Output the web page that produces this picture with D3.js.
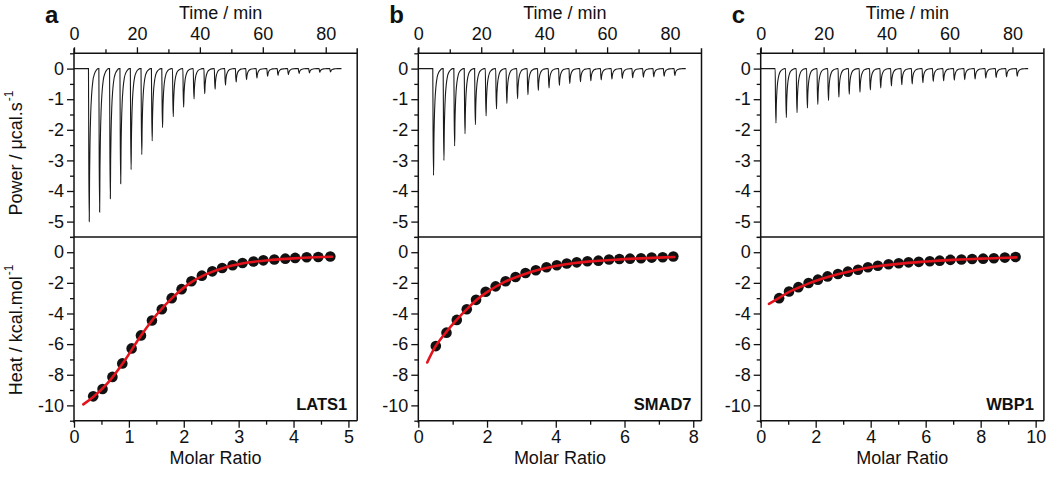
<!DOCTYPE html>
<html>
<head>
<meta charset="utf-8">
<script src="https://cdn.jsdelivr.net/npm/d3@7"></script>
<style>
  html, body { margin: 0; padding: 0; background: #fff; }
  svg { display: block; }
  text { font-family: "Liberation Sans", Arial, sans-serif; fill: #111; }
</style>
</head>
<body>
<svg id="chart" width="1050" height="477"></svg>
<script>
// ---------------- DATA ----------------
const panelLetters = ["a", "b", "c"];
const ligandNames = ["LATS1", "SMAD7", "WBP1"];

const timeTicks = [0, 20, 40, 60, 80];
const timeMinorTicks = [10, 30, 50, 70];
const powerTicks = [0, -1, -2, -3, -4, -5];
const powerMinorTicks = [0.5, -0.5, -1.5, -2.5, -3.5, -4.5, -5.5];
const heatTicks = [0, -2, -4, -6, -8, -10];
const heatMinorTicks = [1, -1, -3, -5, -7, -9, -11];
const ratioTicksA = [0, 1, 2, 3, 4, 5];
const ratioMinorA = [0.5, 1.5, 2.5, 3.5, 4.5];
const ratioTicksB = [0, 2, 4, 6, 8];
const ratioMinorB = [1, 3, 5, 7];
const ratioTicksC = [0, 2, 4, 6, 8, 10];
const ratioMinorC = [1, 3, 5, 7, 9];
const ratioMax = [5.16, 8.24, 10.3];

// injection times (min), same for all three runs
const injectionTimes = [4.6, 7.9, 11.3, 14.6, 17.9, 21.3, 24.6, 27.9, 31.3, 34.6, 37.9, 41.3,
                        44.6, 47.9, 51.3, 54.6, 57.9, 61.3, 64.6, 67.9, 71.3, 74.6, 77.9, 81.3];
const baselineEnd = 85;

// peak minima (µcal/s)
const peakA = [-5.0, -4.69, -4.25, -3.76, -3.30, -2.81, -2.36, -1.93, -1.57, -1.26, -0.99, -0.82,
               -0.67, -0.54, -0.44, -0.36, -0.31, -0.25, -0.22, -0.20, -0.16, -0.14, -0.12, -0.11];
const peakB = [-3.49, -3.0, -2.53, -2.13, -1.83, -1.55, -1.32, -1.14, -0.98, -0.85, -0.71, -0.63,
               -0.55, -0.49, -0.43, -0.40, -0.37, -0.34, -0.32, -0.30, -0.28, -0.27, -0.25, -0.23];
const peakC = [-1.78, -1.60, -1.44, -1.29, -1.17, -1.04, -0.93, -0.84, -0.77, -0.70, -0.63, -0.57,
               -0.53, -0.50, -0.46, -0.42, -0.40, -0.38, -0.36, -0.34, -0.31, -0.29, -0.27, -0.25];

// shape of one injection peak: time offset (min) and fraction of the peak depth
const peakShapeOffset = [0, 0.1, 0.25, 0.35, 0.5, 0.7, 1.0, 1.4, 1.9, 2.5, 3.0];
const peakShapeFrac   = [0, 0.6, 1.0, 0.7, 0.47, 0.3, 0.17, 0.08, 0.035, 0.01, 0];

// integrated heats
const ratioA = [0.35, 0.52, 0.70, 0.88, 1.05, 1.22, 1.42, 1.60, 1.78, 1.96, 2.14, 2.33,
                2.52, 2.70, 2.89, 3.07, 3.27, 3.45, 3.65, 3.85, 4.03, 4.24, 4.45, 4.67];
const heatA  = [-9.41, -8.93, -8.14, -7.26, -6.28, -5.43, -4.46, -3.72, -3.0, -2.41, -1.90, -1.53,
                -1.25, -1.03, -0.85, -0.70, -0.61, -0.53, -0.48, -0.42, -0.37, -0.33, -0.31, -0.28];
const ratioB = [0.51, 0.82, 1.12, 1.41, 1.68, 1.96, 2.25, 2.54, 2.83, 3.12, 3.42, 3.73,
                4.03, 4.32, 4.61, 4.92, 5.24, 5.55, 5.85, 6.16, 6.48, 6.79, 7.11, 7.42];
const heatB  = [-6.13, -5.25, -4.42, -3.72, -3.11, -2.58, -2.23, -1.90, -1.62, -1.36, -1.18, -0.98,
                -0.85, -0.74, -0.66, -0.59, -0.55, -0.48, -0.44, -0.42, -0.39, -0.35, -0.33, -0.28];
const ratioC = [0.67, 1.03, 1.37, 1.74, 2.08, 2.43, 2.81, 3.17, 3.54, 3.90, 4.26, 4.65,
                5.02, 5.38, 5.75, 6.15, 6.51, 6.90, 7.30, 7.69, 8.09, 8.48, 8.88, 9.27];
const heatC  = [-3.0, -2.56, -2.28, -2.01, -1.79, -1.58, -1.42, -1.27, -1.14, -0.98, -0.88, -0.79,
                -0.72, -0.66, -0.63, -0.59, -0.55, -0.50, -0.48, -0.44, -0.42, -0.39, -0.35, -0.31];

// fitted curves
const fitRatioA = [0.17, 0.35, 0.6, 0.9, 1.2, 1.5, 1.8, 2.1, 2.4, 2.8, 3.2, 3.6, 4.0, 4.4, 4.7];
const fitHeatA  = [-9.93, -9.45, -8.6, -7.2, -5.55, -4.1, -2.95, -2.05, -1.45, -0.95, -0.66, -0.5, -0.4, -0.33, -0.3];
const fitRatioB = [0.26, 0.5, 0.8, 1.1, 1.4, 1.7, 2.0, 2.5, 3.0, 3.5, 4.0, 4.5, 5.0, 5.5, 6.0, 6.5, 7.0, 7.45];
const fitHeatB  = [-7.2, -6.15, -5.25, -4.45, -3.75, -3.1, -2.6, -1.95, -1.5, -1.15, -0.9, -0.72, -0.6, -0.52, -0.45, -0.4, -0.35, -0.31];
const fitRatioC = [0.3, 0.67, 1.0, 1.4, 1.8, 2.2, 2.6, 3.0, 3.5, 4.0, 4.5, 5.0, 5.5, 6.0, 6.5, 7.0, 7.5, 8.0, 8.5, 9.0, 9.3];
const fitHeatC  = [-3.37, -2.98, -2.62, -2.3, -2.0, -1.75, -1.53, -1.35, -1.15, -0.98, -0.86, -0.76, -0.68, -0.61, -0.55, -0.5, -0.46, -0.42, -0.39, -0.36, -0.34];

// ---------------- DRAWING ----------------
const svg = d3.select("#chart");
const FONT = 18;
const lefts = [74, 418.3, 760.7];
const W = 283.2;
const yTopPx = 53.3, yMidPx = 236.9, yBotPx = 420.7;

const panelData = [
  { peaks: peakA, ratio: ratioA, heat: heatA, fr: fitRatioA, fh: fitHeatA, rt: ratioTicksA, rm: ratioMinorA },
  { peaks: peakB, ratio: ratioB, heat: heatB, fr: fitRatioB, fh: fitHeatB, rt: ratioTicksB, rm: ratioMinorB },
  { peaks: peakC, ratio: ratioC, heat: heatC, fr: fitRatioC, fh: fitHeatC, rt: ratioTicksC, rm: ratioMinorC }
];

const fmt = d => String(d);

function styleAxis(g) {
  g.select(".domain").remove();
  g.selectAll(".tick line").attr("stroke", "#111").attr("stroke-width", 1.3);
  g.selectAll(".tick text").attr("font-size", FONT).style("font-family", '"Liberation Sans", Arial, sans-serif').attr("fill", "#111");
}

panelData.forEach((p, i) => {
  const L = lefts[i], R = L + W;
  const g = svg.append("g");

  const xTime = d3.scaleLinear().domain([0, 90]).range([L, R]);
  const yPow = d3.scaleLinear().domain([-5.5, 0.5]).range([yMidPx, yTopPx]);
  const xRat = d3.scaleLinear().domain([0, ratioMax[i]]).range([L, R]);
  const yHeat = d3.scaleLinear().domain([-11, 1]).range([yBotPx, yMidPx]);

  // ---- power trace ----
  const trace = [[0, 0]];
  injectionTimes.forEach((t, k) => {
    peakShapeOffset.forEach((o, j) => trace.push([t + o, p.peaks[k] * peakShapeFrac[j]]));
  });
  trace.push([baselineEnd, 0]);
  g.append("path")
    .attr("d", d3.line().x(d => xTime(d[0])).y(d => yPow(d[1])).curve(d3.curveMonotoneX)(trace))
    .attr("fill", "none").attr("stroke", "#1a1a1a").attr("stroke-width", 1.1);

  // ---- heats: dots then fit ----
  g.append("g").selectAll("circle").data(p.ratio).join("circle")
    .attr("cx", d => xRat(d)).attr("cy", (d, k) => yHeat(p.heat[k]))
    .attr("r", 5.3).attr("fill", "#111");
  const fit = p.fr.map((r, k) => [r, p.fh[k]]);
  g.append("path")
    .attr("d", d3.line().x(d => xRat(d[0])).y(d => yHeat(d[1])).curve(d3.curveCatmullRom)(fit))
    .attr("fill", "none").attr("stroke", "#e3121b").attr("stroke-width", 2.6).attr("stroke-linecap", "round");

  // ---- axes ----
  g.append("g").attr("transform", `translate(0,${yTopPx})`)
    .call(d3.axisTop(xTime).tickValues(timeTicks).tickFormat(fmt).tickSize(6).tickPadding(7)).call(styleAxis);
  g.append("g").attr("transform", `translate(0,${yTopPx})`)
    .call(d3.axisTop(xTime).tickValues(timeMinorTicks).tickFormat("").tickSize(4)).call(styleAxis);
  g.append("g").attr("transform", `translate(${L},0)`)
    .call(d3.axisLeft(yPow).tickValues(powerTicks).tickFormat(fmt).tickSize(7).tickPadding(3)).call(styleAxis);
  g.append("g").attr("transform", `translate(${L},0)`)
    .call(d3.axisLeft(yPow).tickValues(powerMinorTicks).tickFormat("").tickSize(4)).call(styleAxis);
  g.append("g").attr("transform", `translate(${L},0)`)
    .call(d3.axisLeft(yHeat).tickValues(heatTicks).tickFormat(fmt).tickSize(7).tickPadding(3)).call(styleAxis);
  g.append("g").attr("transform", `translate(${L},0)`)
    .call(d3.axisLeft(yHeat).tickValues(heatMinorTicks).tickFormat("").tickSize(4)).call(styleAxis);
  g.append("g").attr("transform", `translate(0,${yBotPx})`)
    .call(d3.axisBottom(xRat).tickValues(p.rt).tickFormat(fmt).tickSize(7).tickPadding(3)).call(styleAxis);
  g.append("g").attr("transform", `translate(0,${yBotPx})`)
    .call(d3.axisBottom(xRat).tickValues(p.rm).tickFormat("").tickSize(4)).call(styleAxis);

  // ---- frame ----
  const frame = g.append("g").attr("stroke", "#111").attr("stroke-width", 1.5);
  frame.append("line").attr("x1", L).attr("x2", L).attr("y1", yTopPx - 5).attr("y2", yBotPx + 2);
  frame.append("line").attr("x1", R).attr("x2", R).attr("y1", yTopPx - 5).attr("y2", yBotPx);
  [yTopPx, yMidPx, yBotPx].forEach(y =>
    frame.append("line").attr("x1", L).attr("x2", R).attr("y1", y).attr("y2", y));

  // ---- texts ----
  g.append("text").attr("x", L + W / 2 + 5).attr("y", 19.3).attr("text-anchor", "middle")
    .attr("font-size", FONT).text("Time / min");
  g.append("text").attr("x", L + W / 2).attr("y", 463.5).attr("text-anchor", "middle")
    .attr("font-size", FONT).text("Molar Ratio");
  g.append("text").attr("x", L - 29).attr("y", 22.5)
    .attr("font-size", 24).attr("font-weight", "bold").text(panelLetters[i]);
  g.append("text").attr("x", R - 10).attr("y", 410).attr("text-anchor", "end")
    .attr("font-size", 16.5).attr("font-weight", "bold").text(ligandNames[i]);
});

// y-axis titles
const t1 = svg.append("text").attr("text-anchor", "middle").attr("font-size", FONT)
  .attr("transform", "translate(21.7,153) rotate(-90)");
t1.append("tspan").text("Power / μcal.s");
t1.append("tspan").attr("font-size", 12).attr("dy", "-0.75em").attr("dx", 1).text("-1");

const t2 = svg.append("text").attr("text-anchor", "middle").attr("font-size", FONT)
  .attr("transform", "translate(21.7,330) rotate(-90)");
t2.append("tspan").text("Heat / kcal.mol");
t2.append("tspan").attr("font-size", 12).attr("dy", "-0.75em").attr("dx", 1).text("-1");
</script>
</body>
</html>
